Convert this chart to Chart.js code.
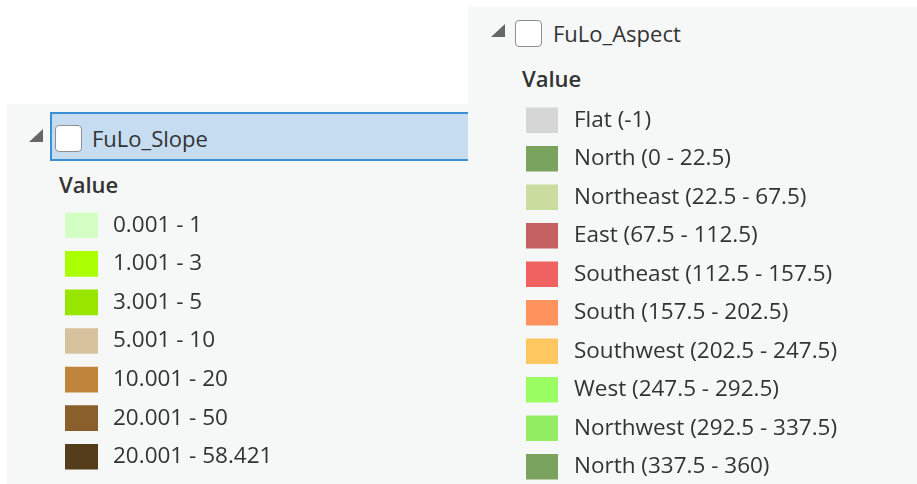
<!DOCTYPE html>
<html>
<head>
<meta charset="utf-8">
<script src="https://cdn.jsdelivr.net/npm/chart.js@4"></script>
<style>
  html, body { margin: 0; padding: 0; background: #fff; }
  #page { position: relative; width: 917px; height: 484px; overflow: hidden; background: #fff;
          font-family: "Open Sans", sans-serif; color: #333; }
  .panel { position: absolute; background: #f6f7f7; }
  .txt { position: absolute; font-size: 22px; line-height: 30px; white-space: nowrap; }
  .bold { font-weight: 600; }
  .tri { position: absolute; width: 14px; height: 13px; background: #666;
         clip-path: polygon(100% 0, 100% 100%, 0 100%); }
  .chk { position: absolute; width: 25px; height: 25px; background: #fff;
         border: 1px solid #8f8f8f; border-radius: 4px; }
  canvas { position: absolute; }
</style>
</head>
<body>
<div id="page">
  <!-- slope panel -->
  <div class="panel" style="left:7px; top:104px; width:470px; height:380px;"></div>
  <div style="position:absolute; left:50px; top:112px; width:418px; height:45px;
              background:#c6dcf0; border:2px solid #3d8fd4; border-right:none;"></div>
  <div class="tri" style="left:29px; top:129px;"></div>
  <div class="chk" style="left:55px; top:125px;"></div>
  <div class="txt" style="left:92px; top:123px;">FuLo_Slope</div>
  <div class="txt bold" style="left:59px; top:169px;">Value</div>
  <canvas id="slopeChart" width="393" height="330" style="left:65px; top:176px;"></canvas>

  <!-- aspect panel -->
  <div class="panel" style="left:468px; top:7px; width:449px; height:477px;"></div>
  <div class="tri" style="left:491px; top:24px;"></div>
  <div class="chk" style="left:515px; top:20px;"></div>
  <div class="txt" style="left:553px; top:18px;">FuLo_Aspect</div>
  <div class="txt bold" style="left:522px; top:63px;">Value</div>
  <canvas id="aspectChart" width="392" height="445" style="left:526px; top:71px;"></canvas>
</div>

<script>
// FuLo_Slope classes
var slopeLabels = ['0.001 - 1', '1.001 - 3', '3.001 - 5', '5.001 - 10', '10.001 - 20', '20.001 - 50', '20.001 - 58.421'];
var slopeColors = ['#d3fec4', '#aaff00', '#98e600', '#d7c29e', '#c0853a', '#895f2b', '#553c1a'];
var slopeSwatch = [1, 1, 1, 1, 1, 1, 1];

// FuLo_Aspect classes
var aspectLabels = ['Flat (-1)', 'North (0 - 22.5)', 'Northeast (22.5 - 67.5)', 'East (67.5 - 112.5)',
  'Southeast (112.5 - 157.5)', 'South (157.5 - 202.5)', 'Southwest (202.5 - 247.5)',
  'West (247.5 - 292.5)', 'Northwest (292.5 - 337.5)', 'North (337.5 - 360)'];
var aspectColors = ['#d6d6d6', '#79a35f', '#cbdc9f', '#c46262', '#f06262', '#fe935d', '#ffc75f',
  '#9afe62', '#93ed63', '#79a35f'];
var aspectSwatch = [1, 1, 1, 1, 1, 1, 1, 1, 1, 1];

function legendChart(id, labels, colors, values, gap) {
  return new Chart(document.getElementById(id), {
    type: 'bar',
    data: {
      labels: labels,
      datasets: [{
        data: values,
        backgroundColor: colors,
        borderWidth: 0,
        barThickness: 25
      }]
    },
    options: {
      indexAxis: 'y',
      responsive: false,
      animation: false,
      // keep enough room so the tick labels don't shrink the plot area
      layout: { padding: { top: 30, bottom: 30, left: 0, right: 0 } },
      plugins: { legend: { display: false }, tooltip: { enabled: false } },
      scales: {
        x: { display: false, min: 0, max: 1 },
        y: {
          position: 'right',
          grid: { display: false, drawTicks: false },
          border: { display: false },
          ticks: {
            padding: gap,
            color: '#333',
            font: { family: 'Open Sans', size: 22.5 }
          },
          afterFit: function (scale) { scale.width = 360; }
        }
      }
    }
  });
}

legendChart('slopeChart', slopeLabels, slopeColors, slopeSwatch, 15);
legendChart('aspectChart', aspectLabels, aspectColors, aspectSwatch, 16);
</script>
</body>
</html>
